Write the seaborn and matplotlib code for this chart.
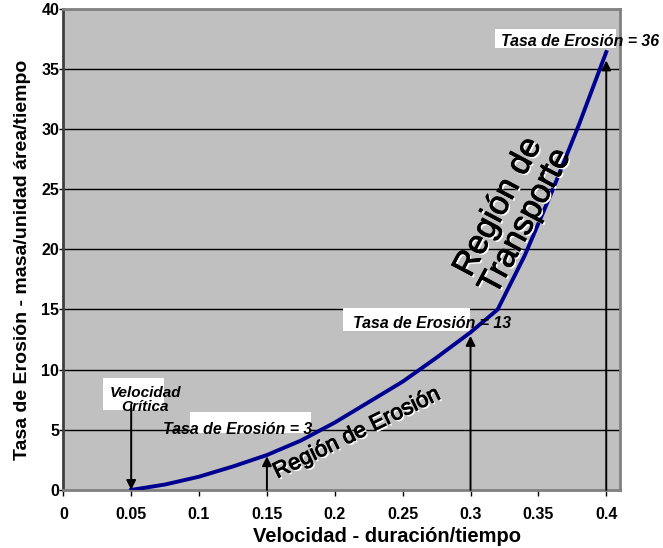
import matplotlib
matplotlib.use('Agg')
import matplotlib.pyplot as plt
import matplotlib.patheffects as pe
from matplotlib.patches import Rectangle
import numpy as np
import pandas as pd
import seaborn as sns

# curve
velocidad = [0.05, 0.075, 0.1, 0.125, 0.15, 0.175, 0.2, 0.225, 0.25, 0.275, 0.3, 0.32, 0.34, 0.36, 0.38, 0.4]
tasa = [0.0, 0.45, 1.1, 1.95, 2.9, 4.1, 5.6, 7.3, 9.0, 11.0, 13.1, 15.0, 19.5, 24.8, 30.4, 36.4]

xticks = [0, 0.05, 0.1, 0.15, 0.2, 0.25, 0.3, 0.35, 0.4]
xticklabels = ['0', '0.05', '0.1', '0.15', '0.2', '0.25', '0.3', '0.35', '0.4']
yticks = [0, 5, 10, 15, 20, 25, 30, 35, 40]

# arrows: x, from, to
arrow_x = [0.05, 0.15, 0.3, 0.4]
arrow_from = [7.1, 0.0, 0.0, 0.0]
arrow_to = [0.0, 2.8, 12.8, 35.7]

# white label boxes: x0, x1, y0, y1
boxes = [(0.318, 0.4074, 36.75, 38.32),
         (0.2059, 0.2993, 13.24, 15.13),
         (0.0934, 0.1826, 4.74, 6.48),
         (0.0293, 0.0742, 6.65, 9.31)]

labels = ['Tasa de Erosión = 36', 'Tasa de Erosión = 13', 'Tasa de Erosión = 3']
label_x = [0.3226, 0.2135, 0.0735]
label_y = [36.9, 13.5, 4.65]

plt.rcParams['font.family'] = ['Liberation Sans', 'DejaVu Sans']

df = pd.DataFrame({'Velocidad': velocidad, 'Tasa': tasa})

fig = plt.figure(figsize=(6.63, 5.48), dpi=100)
fig.patch.set_facecolor('white')
ax = fig.add_axes([0.0955, 0.106, 0.84, 0.878])
ax.set_facecolor('#C0C0C0')

for yv in yticks[1:-1]:
    ax.axhline(yv, color='black', lw=1.0, zorder=1)

sns.lineplot(data=df, x='Velocidad', y='Tasa', ax=ax, color='#000090', lw=2.8, zorder=4)

for x0, x1, y0, y1 in boxes:
    ax.add_patch(Rectangle((x0, y0), x1 - x0, y1 - y0, facecolor='white', edgecolor='none', zorder=2, clip_on=False))

for xa, ya, yb in zip(arrow_x, arrow_from, arrow_to):
    ax.annotate('', xy=(xa, yb), xytext=(xa, ya),
                arrowprops=dict(arrowstyle='-|>', color='black', lw=1.4, mutation_scale=14, shrinkA=0, shrinkB=0),
                zorder=3)

for t, xl, yl in zip(labels, label_x, label_y):
    ax.text(xl, yl, t, fontsize=11.4, fontweight='bold', fontstyle='italic', ha='left', va='baseline', zorder=5, clip_on=False)

ax.text(0.0603, 7.45, 'Velocidad\nCrítica', fontsize=11, fontweight='bold', fontstyle='italic',
        ha='center', va='center', linespacing=1.0, zorder=5)

shadow = [pe.SimplePatchShadow(offset=(1.3, -1.3), shadow_rgbFace='white', alpha=1.0),
          pe.Stroke(linewidth=0.7, foreground='black'), pe.Normal()]
ax.text(0.2163, 4.7, 'Región de Erosión', fontsize=16, rotation=26, rotation_mode='anchor',
        ha='center', va='center', zorder=6, path_effects=shadow)
ax.text(0.3307, 22.9, 'Región de\nTransporte', fontsize=24, rotation=62, rotation_mode='anchor',
        ha='center', va='center', multialignment='center', linespacing=1.0, zorder=6, path_effects=shadow)

ax.set_xlim(0, 0.4103)
ax.set_ylim(0, 40)
ax.set_xticks(xticks)
ax.set_xticklabels(xticklabels)
ax.set_yticks(yticks)
ax.tick_params(axis='x', length=4, width=1, pad=8, labelsize=11.5)
ax.tick_params(axis='y', length=3, width=1, pad=0, labelsize=11.5)
for lab in ax.get_xticklabels() + ax.get_yticklabels():
    lab.set_fontweight('bold')

ax.set_xlabel('Velocidad - duración/tiempo', fontsize=14.5, fontweight='bold')
ax.set_ylabel('Tasa de Erosión - masa/unidad área/tiempo', fontsize=14, fontweight='bold')
ax.xaxis.set_label_coords(0.582, -0.078)
ax.yaxis.set_label_coords(-0.058, 0.479)

ax.spines['left'].set_color('#404040')
ax.spines['left'].set_linewidth(2)
ax.spines['bottom'].set_color('#808080')
ax.spines['bottom'].set_linewidth(2)
ax.spines['top'].set_color('#808080')
ax.spines['top'].set_linewidth(2)
ax.spines['right'].set_color('#808080')
ax.spines['right'].set_linewidth(2)

fig.savefig('out.png', dpi=100)
